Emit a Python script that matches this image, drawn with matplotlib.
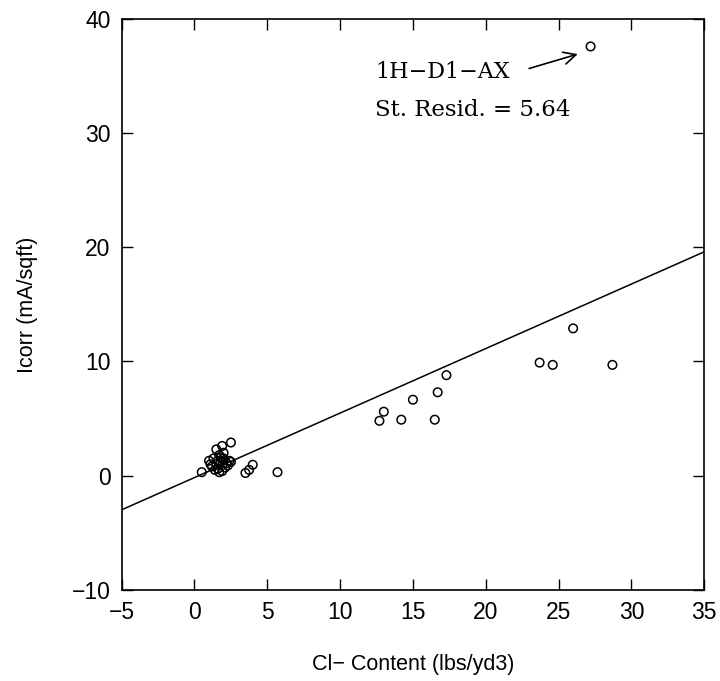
import numpy as np
import matplotlib
matplotlib.use('Agg')
import matplotlib.pyplot as plt

# chloride content (lbs/yd3) vs corrosion current (mA/sqft)
cl_content = [27.2, 26.0, 23.7, 24.6, 28.7,
              13.0, 12.7, 14.2, 15.0, 16.7, 16.5, 17.3,
              2.5, 1.9, 1.5, 0.5, 1.7, 3.5, 3.75, 4.0, 5.7,
              1.0, 1.2, 1.3, 1.5, 1.6, 1.7, 1.8, 1.9, 2.0, 2.1,
              2.2, 2.4, 1.4, 1.6, 2.0, 1.9, 2.3, 1.1, 1.8, 2.5]
icorr = [37.6, 12.9, 9.9, 9.7, 9.7,
         5.6, 4.8, 4.9, 6.65, 7.3, 4.9, 8.8,
         2.9, 2.6, 2.3, 0.3, 0.3, 0.23, 0.5, 0.95, 0.3,
         1.3, 0.8, 1.5, 1.0, 0.6, 1.8, 1.2, 0.9, 1.5, 0.7,
         1.1, 1.3, 0.5, 1.3, 2.0, 0.4, 0.9, 1.0, 1.6, 1.2]

# fitted regression line
slope = 0.565
intercept = -0.17
x_line = [-5, 35]

x_ticks = [-5, 0, 5, 10, 15, 20, 25, 30, 35]
y_ticks = [-10, 0, 10, 20, 30, 40]

fig = plt.figure(figsize=(7.2, 6.81), dpi=100)
ax = fig.add_axes([0.169, 0.134, 0.809, 0.838])

ax.scatter(cl_content, icorr, s=38, facecolors='none', edgecolors='black',
           linewidths=1.1, zorder=3)
ax.plot(x_line, [slope * v + intercept for v in x_line], color='black', lw=1.1)

ax.set_xlim(-5, 35)
ax.set_ylim(-10, 40)
ax.set_xticks(x_ticks)
ax.set_yticks(y_ticks)
ax.set_xticklabels([str(t).replace('-', '\u2212') for t in x_ticks])
ax.set_yticklabels([str(t).replace('-', '\u2212') for t in y_ticks])
ax.tick_params(direction='in', length=8, width=1, top=True, right=True,
               labelsize=16.5, pad=8)
for lab in ax.get_xticklabels() + ax.get_yticklabels():
    lab.set_family('Liberation Sans')
for sp in ax.spines.values():
    sp.set_linewidth(1.2)

ax.set_xlabel('Cl\u2212 Content (lbs/yd3)', fontsize=15.5, family='Liberation Sans',
              labelpad=22)
ax.set_ylabel('Icorr (mA/sqft)', fontsize=15.5, family='Liberation Sans',
              labelpad=24)

ax.annotate('', xy=(26.5, 37.0), xytext=(22.8, 35.6),
            arrowprops=dict(arrowstyle='->', color='black', lw=1.2,
                            mutation_scale=22))
ax.text(12.4, 35.4, '1H\u2212D1\u2212AX', fontsize=16, family='DejaVu Serif',
        va='center', ha='left')
ax.text(12.4, 32.0, 'St. Resid. = 5.64', fontsize=16.5, family='DejaVu Serif',
        va='center', ha='left')

fig.savefig('out.png', dpi=100)
